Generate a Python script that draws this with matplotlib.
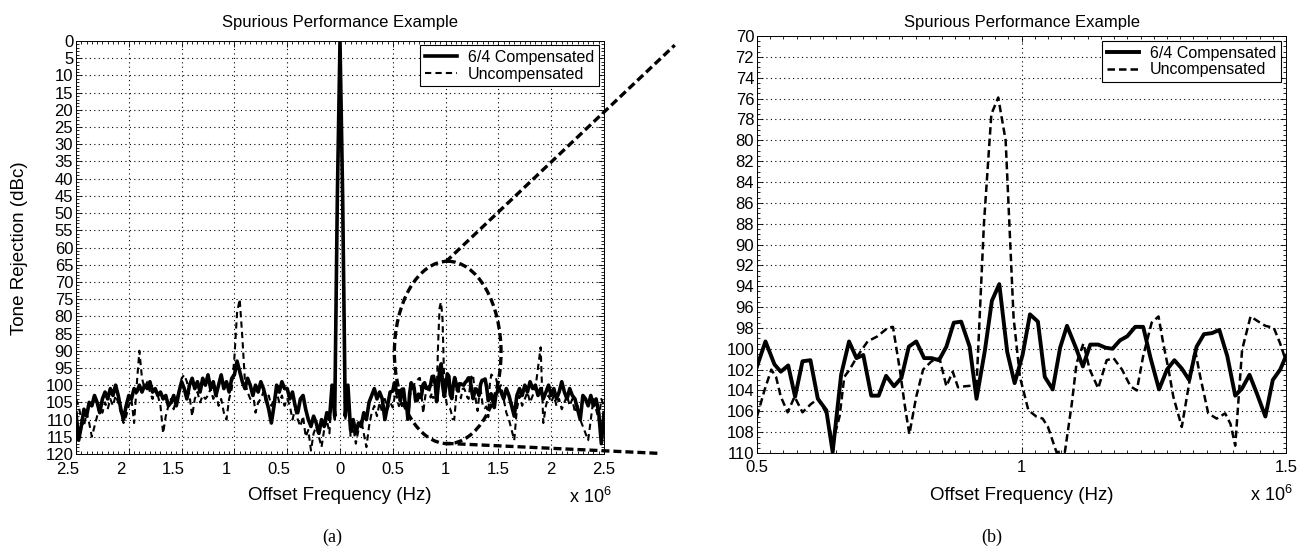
import matplotlib
matplotlib.use('Agg')
import matplotlib.pyplot as plt
import matplotlib.transforms as mtransforms
import numpy as np
from matplotlib.patches import Ellipse
from matplotlib.ticker import MultipleLocator, FuncFormatter

plt.rcParams['font.family'] = ['Liberation Sans', 'DejaVu Sans']
plt.rcParams['mathtext.fontset'] = 'custom'
plt.rcParams['mathtext.rm'] = 'Liberation Sans'

# frequencies in units of 1e6 Hz, levels in dBc (rejection, plotted downward)

# zoomed view 0.5 .. 1.5 MHz, 6/4 compensated
zoom_freq_comp = [0.500, 0.516, 0.533, 0.545, 0.559, 0.572, 0.586, 0.601, 0.615, 0.631,
                  0.643, 0.659, 0.674, 0.688, 0.701, 0.716, 0.730, 0.744, 0.759, 0.773,
                  0.787, 0.801, 0.816, 0.830, 0.844, 0.858, 0.872, 0.886, 0.902, 0.915,
                  0.931, 0.944, 0.958, 0.973, 0.987, 1.002, 1.016, 1.031, 1.044, 1.059,
                  1.073, 1.086, 1.102, 1.116, 1.130, 1.145, 1.159, 1.172, 1.186, 1.200,
                  1.215, 1.230, 1.244, 1.260, 1.275, 1.289, 1.303, 1.317, 1.331, 1.345,
                  1.360, 1.374, 1.389, 1.404, 1.417, 1.431, 1.445, 1.461, 1.475, 1.489,
                  1.500]
zoom_comp = [101.7, 99.3, 101.5, 102.2, 101.6, 104.6, 101.2, 101.1, 104.8, 105.9,
             109.9, 102.5, 99.3, 100.9, 100.6, 104.5, 104.5, 102.6, 103.6, 102.8,
             99.8, 99.3, 100.9, 100.9, 101.1, 99.8, 97.5, 97.4, 99.8, 104.8,
             100.1, 95.4, 93.8, 100.3, 103.3, 100.6, 96.7, 97.4, 102.7, 103.9,
             99.9, 97.8, 99.8, 101.7, 99.6, 99.6, 99.9, 100.0, 99.2, 98.8,
             97.9, 97.9, 100.9, 103.9, 102.0, 101.1, 101.9, 103.0, 99.8, 98.6,
             98.5, 98.2, 100.7, 104.5, 103.8, 102.5, 104.3, 106.5, 103.0, 102.0,
             100.7]

# zoomed view, uncompensated
zoom_freq_unc = [0.500, 0.514, 0.527, 0.536, 0.545, 0.558, 0.571, 0.586, 0.602, 0.616,
                 0.631, 0.643, 0.656, 0.665, 0.675, 0.690, 0.709, 0.728, 0.747, 0.757,
                 0.770, 0.779, 0.788, 0.801, 0.814, 0.830, 0.845, 0.858, 0.870, 0.880,
                 0.893, 0.915, 0.929, 0.943, 0.956, 0.970, 0.985, 0.997, 1.013, 1.028,
                 1.040, 1.050, 1.066, 1.082, 1.095, 1.104, 1.117, 1.129, 1.145, 1.161,
                 1.174, 1.190, 1.206, 1.218, 1.230, 1.246, 1.259, 1.268, 1.278, 1.287,
                 1.303, 1.319, 1.328, 1.338, 1.353, 1.369, 1.385, 1.395, 1.404, 1.417,
                 1.433, 1.448, 1.461, 1.477, 1.489, 1.500]
zoom_unc = [106.5, 104.0, 102.0, 102.7, 104.6, 106.1, 104.6, 106.1, 105.3, 104.8,
            106.2, 109.0, 106.5, 102.7, 102.0, 100.7, 99.3, 98.8, 98.0, 97.9,
            102.0, 105.3, 108.2, 104.6, 102.0, 101.2, 100.9, 103.6, 102.2, 103.7,
            103.6, 103.5, 88.0, 77.5, 75.9, 80.0, 97.0, 102.7, 105.9, 106.5,
            106.7, 107.5, 109.9, 109.9, 105.3, 101.4, 99.5, 102.0, 103.8, 101.1,
            100.9, 102.0, 103.6, 104.0, 100.7, 97.5, 96.9, 99.5, 102.0, 104.6,
            107.5, 102.7, 100.1, 102.7, 106.2, 106.7, 106.2, 107.2, 109.3, 100.1,
            96.9, 97.4, 97.8, 98.0, 99.5, 101.2]

# wide view, -2.5 .. 0.475 MHz (step 0.025)
neg_freq = np.linspace(-2.5, 0.475, 120)
neg_comp = [108, 116, 112, 107, 109, 105, 106, 103, 105, 108,
            104, 102, 104, 101, 103, 100, 103, 107, 110, 106,
            103, 104, 101, 102, 100, 102, 100, 101, 99, 102,
            101, 103, 102, 104, 103, 106, 105, 103, 106, 102,
            99, 101, 104, 100, 98, 101, 99, 102, 98, 100,
            97, 101, 99, 103, 100, 97, 101, 99, 102, 98,
            97, 93, 96, 99, 101, 98, 100, 103, 100, 102,
            99, 101, 104, 107, 111, 106, 100, 102, 99, 101,
            101, 104, 102, 106, 108, 104, 103, 107, 110, 112,
            109, 111, 114, 110, 112, 108, 110, 100, 109, 45,
            0, 45, 109, 100, 113, 110, 114, 111, 112, 108,
            110, 105, 103, 101, 104, 102, 104, 110, 106, 102]
neg_unc = [104, 106, 110, 112, 108, 111, 115, 112, 109, 106,
           108, 105, 107, 104, 106, 103, 105, 108, 111, 109,
           106, 104, 111, 100, 90, 98, 101, 99, 102, 104,
           101, 103, 106, 114, 109, 106, 104, 107, 104, 102,
           98, 97, 99, 103, 109, 104, 102, 105, 103, 104,
           103, 101, 104, 102, 106, 104, 108, 110, 104, 101,
           92, 79, 75, 86, 99, 102, 104, 102, 108, 105,
           104, 102, 105, 103, 106, 104, 102, 105, 103, 106,
           104, 106, 110, 107, 110, 112, 109, 115, 113, 119,
           114, 112, 115, 118, 113, 110, 114, 101, 110, 45,
           0, 45, 110, 101, 115, 112, 117, 113, 110, 114,
           118, 112, 108, 106, 109, 105, 108, 104, 107, 105]

# wide view, 1.525 .. 2.5 MHz (step 0.025)
pos_freq = np.linspace(1.525, 2.5, 40)
pos_comp = [102, 104, 101, 103, 106, 109, 103, 101, 103, 100,
            102, 99, 101, 100, 103, 101, 104, 102, 100, 103,
            101, 104, 102, 99, 102, 104, 101, 103, 104, 107,
            110, 103, 104, 106, 103, 106, 104, 108, 117, 108]
pos_unc = [100, 104, 108, 110, 113, 116, 107, 103, 106, 104,
           102, 105, 103, 101, 95, 89, 111, 106, 103, 105,
           103, 106, 104, 107, 105, 103, 106, 104, 108, 106,
           110, 112, 114, 116, 110, 104, 107, 110, 104, 106]

W, H = 1299, 546
fig = plt.figure(figsize=(W / 100, H / 100), dpi=100)


def px_axes(x0, y0, x1, y1):
    return fig.add_axes([x0 / W, 1 - y1 / H, (x1 - x0) / W, (y1 - y0) / H])


def style_axes(ax, xpad=4):
    ax.tick_params(which='both', direction='in', top=True, right=True,
                   labelsize=12, width=0.6)
    ax.tick_params(axis='y', pad=2)
    ax.tick_params(axis='x', pad=xpad)
    ax.tick_params(which='major', length=4)
    ax.tick_params(which='minor', length=2)
    ax.grid(True, which='major', color='k', linestyle=(0, (1, 3)), linewidth=0.8)
    for s in ax.spines.values():
        s.set_linewidth(0.7)


# ---- (a) wide view ----
ax1 = px_axes(76, 41, 604, 454)
f_comp = np.concatenate([neg_freq, zoom_freq_comp, pos_freq])
l_comp = np.concatenate([neg_comp, zoom_comp, pos_comp])
f_unc = np.concatenate([neg_freq, zoom_freq_unc, pos_freq])
l_unc = np.concatenate([neg_unc, zoom_unc, pos_unc])
ax1.plot(f_comp, l_comp, color='k', linewidth=2.6, label='6/4 Compensated', zorder=3)
ax1.plot(f_unc, l_unc, color='k', linewidth=1.5, dashes=(3, 2), label='Uncompensated', zorder=2)
ax1.set_xlim(-2.5, 2.5)
ax1.set_ylim(120, 0)
ax1.set_xticks(np.arange(-2.5, 2.51, 0.5))
ax1.xaxis.set_minor_locator(MultipleLocator(0.05))
ax1.yaxis.set_major_locator(MultipleLocator(5))
ax1.yaxis.set_minor_locator(MultipleLocator(1))
ax1.xaxis.set_major_formatter(FuncFormatter(lambda v, p: f'{abs(v):g}'))
style_axes(ax1, xpad=5.5)
# labels left of zero sit a little to the left of their ticks in the original
shift = mtransforms.ScaledTranslation(-8 / 100, 0, fig.dpi_scale_trans)
for tk, v in zip(ax1.xaxis.get_major_ticks(), ax1.get_xticks()):
    if v < -0.01:
        tk.label1.set_transform(tk.label1.get_transform() + shift)
leg1 = ax1.legend(loc='upper right', bbox_to_anchor=(0.991, 0.99), borderaxespad=0,
                  fancybox=False, edgecolor='k', framealpha=1, fontsize=11.5,
                  handlelength=2.0, handletextpad=0.7, labelspacing=0.1, borderpad=0.3)
leg1.get_frame().set_linewidth(0.8)

# dashed callout: ellipse round the 1 MHz spur, lines toward panel (b)
ann = dict(color='k', linewidth=2.4, dashes=(2.4, 1.2), clip_on=False, zorder=5)
ax1.add_patch(Ellipse((1.02, 90.5), 1.01, 53, fill=False, edgecolor='k',
                      linewidth=2.4, linestyle=(0, (2.4, 1.2)), clip_on=False, zorder=5))
ax1.plot([1.0, 3.17], [64.2, 1.2], **ann)
ax1.plot([1.0, 3.01], [116.9, 119.8], **ann)

# ---- (b) zoomed view ----
ax2 = px_axes(757, 36, 1286, 453)
ax2.plot(zoom_freq_comp, zoom_comp, color='k', linewidth=2.8, label='6/4 Compensated', zorder=3)
ax2.plot(zoom_freq_unc, zoom_unc, color='k', linewidth=1.8, dashes=(3, 1.6), label='Uncompensated', zorder=2)
ax2.set_xlim(0.5, 1.5)
ax2.set_ylim(110, 70)
ax2.xaxis.set_major_locator(MultipleLocator(0.5))
ax2.xaxis.set_minor_locator(MultipleLocator(0.025))
ax2.yaxis.set_major_locator(MultipleLocator(2))
ax2.yaxis.set_minor_locator(MultipleLocator(0.5))
ax2.xaxis.set_major_formatter(FuncFormatter(lambda v, p: f'{v:g}'))
style_axes(ax2, xpad=5)
leg2 = ax2.legend(loc='upper right', bbox_to_anchor=(0.991, 0.988), borderaxespad=0,
                  fancybox=False, edgecolor='k', framealpha=1, fontsize=11.5,
                  handlelength=2.0, handletextpad=0.7, labelspacing=0.1, borderpad=0.3)
leg2.get_frame().set_linewidth(0.8)

# ---- texts ----
for cx in (340, 1021.5):
    fig.text(cx / W, 1 - 22 / H, 'Spurious Performance Example', ha='center', va='center', fontsize=12)
    fig.text(cx / W, 1 - 496 / H, 'Offset Frequency (Hz)', ha='center', va='center', fontsize=13.5)
fig.text(569 / W, 1 - 497 / H, r'x 10$^{6}$', ha='left', va='center', fontsize=13)
fig.text(1250 / W, 1 - 495 / H, r'x 10$^{6}$', ha='left', va='center', fontsize=13)
fig.text(332 / W, 1 - 537 / H, '(a)', ha='center', va='center', fontsize=13, family='Liberation Serif')
fig.text(992 / W, 1 - 537 / H, '(b)', ha='center', va='center', fontsize=13, family='Liberation Serif')
fig.text(20 / W, 1 - 248 / H, 'Tone Rejection (dBc)', ha='center', va='center', rotation=90, fontsize=13.5)

fig.savefig('out.png', dpi=100)
